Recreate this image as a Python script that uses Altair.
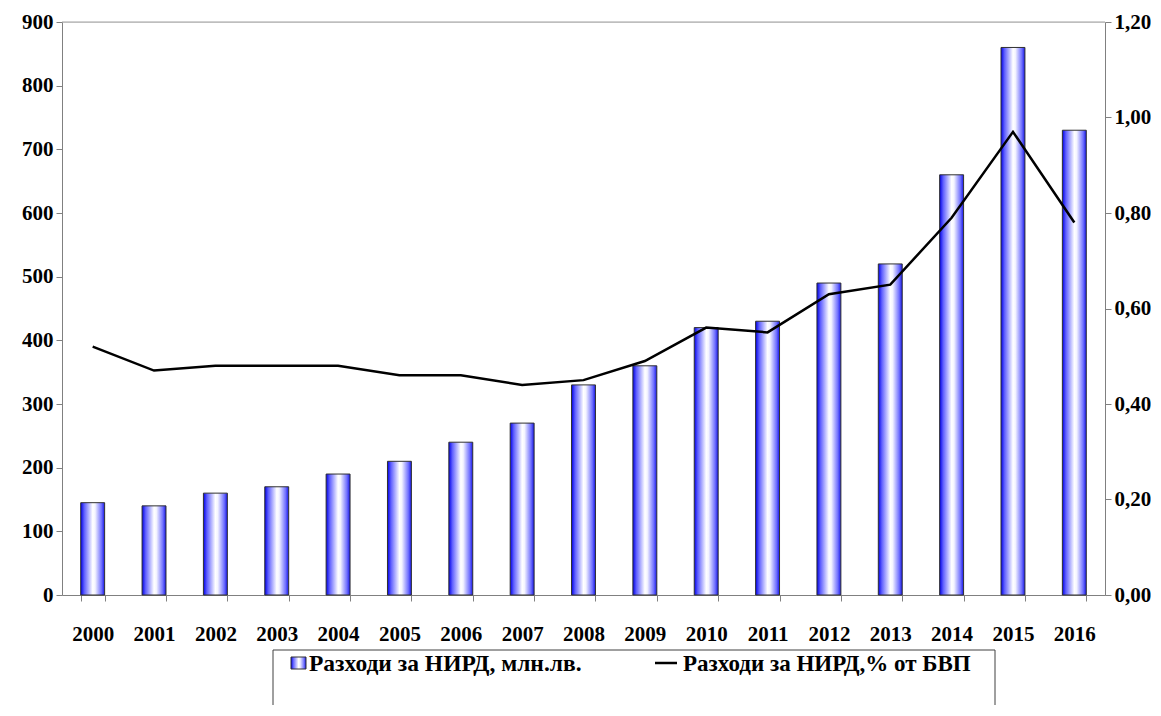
import altair as alt
import pandas as pd

years = [str(y) for y in range(2000, 2017)]
spend = [145, 140, 160, 170, 190, 210, 240, 270, 330, 360, 420, 430, 490, 520, 660, 860, 730]
pct = [0.52, 0.47, 0.48, 0.48, 0.48, 0.46, 0.46, 0.44, 0.45, 0.49, 0.56, 0.55, 0.63, 0.65, 0.79, 0.97, 0.78]
left_ticks = list(range(0, 901, 100))
right_ticks = [0.0, 0.2, 0.4, 0.6, 0.8, 1.0, 1.2]
legend_labels = ["Разходи за НИРД, млн.лв.", "Разходи за НИРД,% от БВП"]

df = pd.DataFrame({"year": years, "spend": spend, "pct": pct})

W, H = 1043, 573
FONT = "'Liberation Serif', 'Times New Roman', Times, serif"
AXC = "#808080"

grad = alt.Gradient(
    gradient="linear",
    stops=[
        alt.GradientStop(color="#0000e6", offset=0),
        alt.GradientStop(color="#6060ff", offset=0.15),
        alt.GradientStop(color="#ffffff", offset=0.5),
        alt.GradientStop(color="#f4f4ff", offset=0.6),
        alt.GradientStop(color="#7070ff", offset=0.87),
        alt.GradientStop(color="#1515e6", offset=1),
    ],
    x1=0, x2=1, y1=0, y2=0,
)

x = alt.X(
    "year:N", title=None,
    scale=alt.Scale(paddingInner=0.61, paddingOuter=0.305),
    axis=alt.Axis(labelAngle=0, tickBand="extent", tickSize=6, labelPadding=22,
                  domainColor=AXC, tickColor=AXC, labelFont=FONT, labelFontSize=21,
                  labelFontWeight="bold", labelColor="black", grid=False),
)

bars = alt.Chart(df).mark_bar(fill=grad, stroke="#303030", strokeWidth=1).encode(
    x=x,
    y=alt.Y("spend:Q", title=None, scale=alt.Scale(domain=[0, 900], nice=False),
            axis=alt.Axis(orient="left", values=left_ticks, tickSize=6, labelPadding=3,
                          domainColor=AXC, tickColor=AXC, labelFont=FONT, labelFontSize=21,
                          labelFontWeight="bold", labelColor="black", grid=False)),
)

line = alt.Chart(df).mark_line(color="black", strokeWidth=2.5).encode(
    x=x,
    y=alt.Y("pct:Q", title=None, scale=alt.Scale(domain=[0, 1.2], nice=False),
            axis=alt.Axis(orient="right", values=right_ticks, tickSize=6, labelPadding=3,
                          labelExpr="replace(format(datum.value, '.2f'), '.', ',')",
                          domainColor=AXC, tickColor=AXC, labelFont=FONT, labelFontSize=21,
                          labelFontWeight="bold", labelColor="black", grid=False)),
)

one = pd.DataFrame({"a": [0]})

top_border = alt.Chart(one).mark_rule(color="#a0a0a0", strokeWidth=1).encode(
    x=alt.value(0), x2=alt.value(W), y=alt.value(0))

# legend box (page coords shifted by plot origin 62,22)
ox, oy = 62, 22
box_top = alt.Chart(one).mark_rule(color="#404040", strokeWidth=1).encode(
    x=alt.value(273 - ox), x2=alt.value(995 - ox), y=alt.value(650 - oy))
box_left = alt.Chart(one).mark_rule(color="#404040", strokeWidth=1).encode(
    x=alt.value(273 - ox), y=alt.value(650 - oy), y2=alt.value(720 - oy))
box_right = alt.Chart(one).mark_rule(color="#404040", strokeWidth=1).encode(
    x=alt.value(995 - ox), y=alt.value(650 - oy), y2=alt.value(720 - oy))

leg_sq = alt.Chart(one).mark_rect(fill=grad, stroke="#303030", strokeWidth=1).encode(
    x=alt.value(291 - ox), x2=alt.value(306 - ox), y=alt.value(657 - oy), y2=alt.value(669 - oy))
leg_ln = alt.Chart(one).mark_rule(color="black", strokeWidth=2.5).encode(
    x=alt.value(655 - ox), x2=alt.value(677 - ox), y=alt.value(663 - oy))
leg_t1 = alt.Chart(one).mark_text(align="left", baseline="middle", font=FONT, fontSize=23.5,
                                  fontWeight="bold", color="black").encode(
    x=alt.value(309 - ox), y=alt.value(664 - oy), text=alt.value(legend_labels[0]))
leg_t2 = alt.Chart(one).mark_text(align="left", baseline="middle", font=FONT, fontSize=23,
                                  fontWeight="bold", color="black").encode(
    x=alt.value(683 - ox), y=alt.value(664 - oy), text=alt.value(legend_labels[1]))

chart = alt.layer(
    bars, line, top_border, box_top, box_left, box_right, leg_sq, leg_ln, leg_t1, leg_t2
).resolve_scale(y="independent").properties(
    width=W, height=H,
    autosize=alt.AutoSizeParams(type="none"),
    padding={"left": 54, "top": 14, "right": 46, "bottom": 110},
).configure_view(stroke=None).configure(background="white")

chart.save("out.html", embed_options={"renderer": "svg", "actions": False})
